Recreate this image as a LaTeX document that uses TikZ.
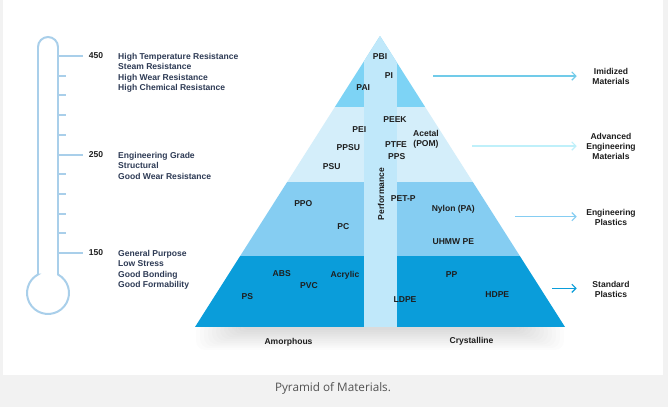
\documentclass[tikz,border=0pt]{standalone}
\usepackage{fontspec}
\setmainfont{Liberation Sans}
\newfontfamily\capfont{Open Sans}
\usetikzlibrary{positioning,arrows.meta}
\definecolor{panelgray}{HTML}{F2F2F2}
\definecolor{tubeblue}{HTML}{A9CFEA}
\definecolor{propink}{HTML}{2E3B55}
\definecolor{matink}{HTML}{1E1E1E}
\definecolor{tipband}{HTML}{7DD3F5}
\definecolor{advband}{HTML}{D4EEFA}
\definecolor{engband}{HTML}{85CDF2}
\definecolor{stdband}{HTML}{0A9DDA}
\definecolor{perfstrip}{HTML}{C0E8FA}
\tikzset{
    mat/.style={
        inner sep=0pt, align=center, text=matink,
        font=\bfseries\fontsize{7.3}{8.9}\selectfont
    },
    prop/.style={
        inner sep=0pt, align=left, anchor=north west, text=propink,
        font=\bfseries\fontsize{7.3}{8.9}\selectfont
    },
    family/.style={mat, text width=1.5cm},
    link/.style={-{Straight Barb[length=3.5pt,width=7pt]},
        line width=1pt, shorten >=7.7pt},
    tick/.style={tubeblue, line width=1.7pt}
}
\begin{document}
\begin{tikzpicture}[x=0.03cm, y=-0.03cm]

        % Page and panel
        \fill[panelgray] (0,0) rectangle (668,407);
        \fill[white] (3,0) rectangle (663,375);

        % Thermometer
        \coordinate (wall) at (58,0);
        \draw[tick] (38,274.5) -- (38,47) arc[start angle=180, end angle=0, radius=0.3cm]
            -- (58,274.5) arc[start angle=61.6, end angle=-241.6, radius=0.63cm] -- cycle;
        \foreach \i in {1,2,3,4,6,7,8,9}
            \draw[tick] (58,56+19.7*\i) -- ++(8,0);

        \node[mat] (n450) at (96,56) {450};
        \node[mat] (n250) at (96,155) {250};
        \node[mat] (n150) at (96,253) {150};
        \foreach \t in {450,250,150}
            \draw[tick, shorten >=5pt] (n\t.west -| wall) -- (n\t.west);

        \node[prop] (p450) at (118,52.8)
            {High Temperature Resistance\\Steam Resistance\\High Wear Resistance\\High Chemical Resistance};
        \node[prop] (p250) at (118,151.8)
            {Engineering Grade\\Structural\\Good Wear Resistance};
        \node[prop] (p150) at (118,249.8)
            {General Purpose\\Low Stress\\Good Bonding\\Good Formability};

        % Shadow under the pyramid
        \foreach \k in {0,...,11}
            \fill[black, opacity=0.012, rounded corners=8pt]
                (196+4*\k,322) rectangle (564-4*\k,350-1.8*\k);

        % Pyramid bands
        \begin{scope}
            \clip (195,327) -- (380,36) -- (565,327) -- cycle;
            \fill[tipband] (190,30) rectangle (570,107);
            \fill[advband] (190,107) rectangle (570,182);
            \fill[engband] (190,182) rectangle (570,256);
            \fill[stdband] (190,256) rectangle (570,327);
            \fill[perfstrip] (364,30) rectangle (397,327);
        \end{scope}

        % Materials
        \node[mat] (pbi) at (380,56.7) {PBI};
        \node[mat] (pi) at (389,76) {PI};
        \node[mat] (pai) at (363.3,87.3) {PAI};
        \node[mat] (peek) at (395,119.3) {PEEK};
        \node[mat] (pei) at (359.3,129.3) {PEI};
        \node[mat] (acetal) at (426,139.5) {Acetal\\(POM)};
        \node[mat] (ptfe) at (396,144.5) {PTFE};
        \node[mat] (ppsu) at (348.3,147.3) {PPSU};
        \node[mat] (pps) at (396.7,156.7) {PPS};
        \node[mat] (psu) at (331.7,166.7) {PSU};
        \node[mat, rotate=90] (perf) at (381,194) {Performance};
        \node[mat] (petp) at (403.3,198.3) {PET-P};
        \node[mat] (ppo) at (303.3,204) {PPO};
        \node[mat] (nylon) at (453.3,209.3) {Nylon (PA)};
        \node[mat] (pc) at (343.3,226.7) {PC};
        \node[mat] (uhmw) at (453.3,241.7) {UHMW PE};
        \node[mat] (abs) at (281.7,274) {ABS};
        \node[mat] (acryl) at (345,275.7) {Acrylic};
        \node[mat] (pvc) at (309,285.7) {PVC};
        \node[mat] (ps) at (247.3,296.7) {PS};
        \node[mat] (pp) at (451.7,274.3) {PP};
        \node[mat] (hdpe) at (497.3,295) {HDPE};
        \node[mat] (ldpe) at (405,299.3) {LDPE};

        \node[mat] (amorph) at (288.5,342.7) {Amorphous};
        \node[mat] (cryst) at (471.5,341) {Crystalline};

        % Families
        \node[family] (imid) at (611,76.5) {Imidized\\Materials};
        \node[family] (adv) at (611,146.5) {Advanced\\Engineering\\Materials};
        \node[family] (eng) at (611,217.7) {Engineering\\Plastics};
        \node[family] (std) at (611,289.3) {Standard\\Plastics};

        \coordinate (s1) at (433,76);
        \coordinate (s2) at (472,146);
        \coordinate (s3) at (515,216.7);
        \coordinate (s4) at (552,288.3);

        \draw[link, color=tipband!90!teal] (s1) -- (s1 -| imid.west);
        \draw[link, color=advband!90!cyan] (s2) -- (s2 -| adv.west);
        \draw[link, color=engband] (s3) -- (s3 -| eng.west);
        \draw[link, color=stdband] (s4) -- (s4 -| std.west);

        % Caption
        \node[font=\capfont\fontsize{10}{12}\selectfont, text=black!68] (cap)
            at (333,388) {Pyramid of Materials.};

    \end{tikzpicture}
\end{document}
